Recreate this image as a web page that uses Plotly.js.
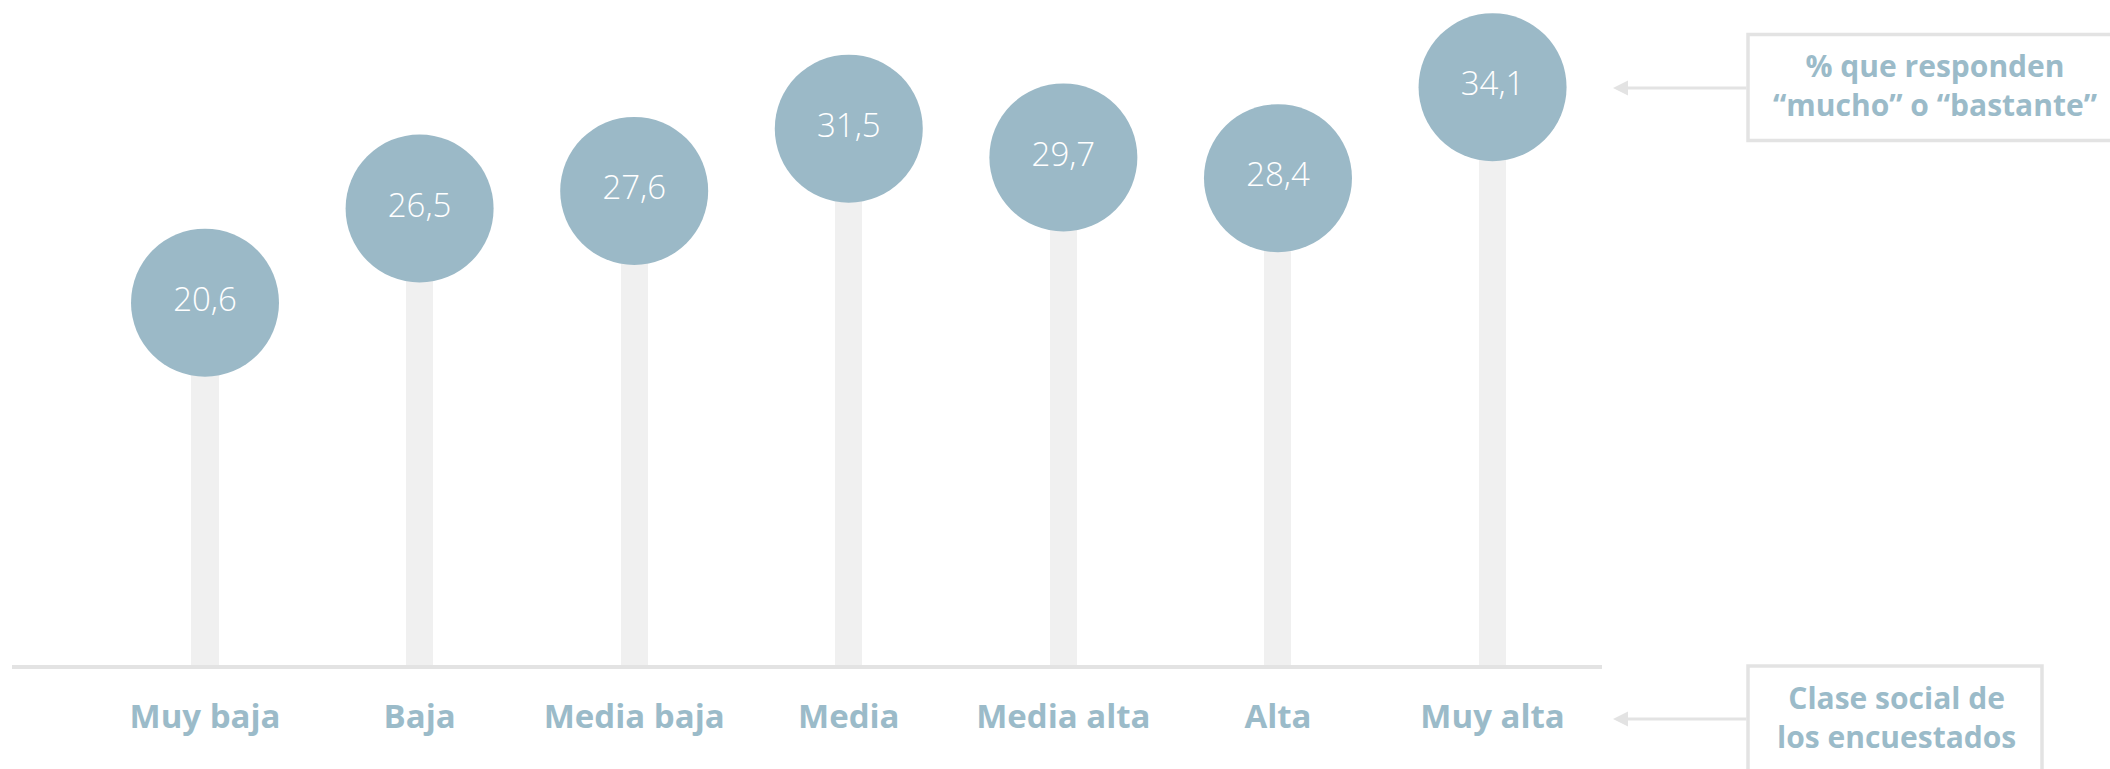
<!DOCTYPE html>
<html><head><meta charset="utf-8">
<script src="https://cdn.plot.ly/plotly-3.0.1.min.js"></script>
<style>html,body{margin:0;padding:0;background:#fff;overflow:hidden}#chart{width:2110px;height:769px}</style>
</head><body><div id="chart"></div>
<script>
// ---- data ----
const categories = ['Muy baja', 'Baja', 'Media baja', 'Media', 'Media alta', 'Alta', 'Muy alta'];
const values = [20.6, 26.5, 27.6, 31.5, 29.7, 28.4, 34.1];
const valueNoteLines = ['% que responden', '“mucho” o “bastante”'];
const categoryNoteLines = ['Clase social de', 'los encuestados'];

// ---- layout helpers ----
const M = {l: 12, r: 508, t: 0, b: 104};
const PW = 2110 - M.l - M.r, PH = 769 - M.t - M.b;
const YMIN = -2.1, YMAX = 39.56;
const px = x => (x - M.l) / PW;
const py = y => (M.t + PH - y) / PH;

const BLUE = '#9bb9c7';
const LABEL = '#9bbbc9';
const GREY = '#e3e3e3';

const stems = {
  type: 'bar', x: categories, y: values.map(v => v - YMIN), base: YMIN,
  width: 0.126, marker: {color: '#f0f0f0', line: {width: 0}},
  hoverinfo: 'skip', showlegend: false
};
const dots = {
  type: 'scatter', mode: 'markers+text', x: categories, y: values,
  marker: {size: 148, color: BLUE, line: {width: 0}, opacity: 1},
  texttemplate: '%{y:.1f}', textposition: 'middle center',
  textfont: {family: 'Open Sans', size: 33, weight: 300, color: '#ffffff'},
  cliponaxis: false, hoverinfo: 'skip', showlegend: false
};

const lineFont = {family: 'Open Sans', size: 30, weight: 700, color: LABEL};
const annotations = [
  {xref: 'paper', yref: 'paper', x: px(1613), y: py(88), text: '', showarrow: true,
   ax: 135, ay: 0, arrowhead: 2, arrowsize: 1, arrowwidth: 3, arrowcolor: GREY, standoff: 0},
  {xref: 'paper', yref: 'paper', x: px(1613), y: py(719), text: '', showarrow: true,
   ax: 135, ay: 0, arrowhead: 2, arrowsize: 1, arrowwidth: 3, arrowcolor: GREY, standoff: 0},
  {xref: 'paper', yref: 'paper', x: px(1935), y: py(84.5), text: valueNoteLines.join('<br>'), showarrow: false,
   xanchor: 'center', yanchor: 'middle', align: 'center', font: lineFont},
  {xref: 'paper', yref: 'paper', x: px(1896), y: py(716.5), text: categoryNoteLines.join('<br>'), showarrow: false,
   xanchor: 'center', yanchor: 'middle', align: 'center', font: lineFont}
];
const shapes = [
  {type: 'rect', xref: 'paper', yref: 'paper', x0: px(1748), x1: px(2126), y0: py(34.5), y1: py(140.5),
   line: {color: GREY, width: 3.5}, fillcolor: 'rgba(0,0,0,0)'},
  {type: 'rect', xref: 'paper', yref: 'paper', x0: px(1748), x1: px(2042), y0: py(666), y1: py(820),
   line: {color: GREY, width: 3.5}, fillcolor: 'rgba(0,0,0,0)'}
];

const layout = {
  width: 2110, height: 769, margin: M,
  paper_bgcolor: '#ffffff', plot_bgcolor: '#ffffff',
  separators: ',.', showlegend: false, hovermode: false, bargap: 0,
  xaxis: {type: 'category', range: [-0.8994, 6.51], showline: true, linecolor: GREY, linewidth: 3.5,
          ticks: 'outside', ticklen: 20, tickcolor: 'rgba(0,0,0,0)', showgrid: false, zeroline: false,
          tickfont: {family: 'Open Sans', size: 33, weight: 700, color: LABEL}, fixedrange: true},
  yaxis: {range: [YMIN, YMAX], visible: false, showgrid: false, zeroline: false, fixedrange: true},
  annotations: annotations, shapes: shapes
};
Plotly.newPlot('chart', [stems, dots], layout, {displayModeBar: false, staticPlot: true});
</script></body></html>
